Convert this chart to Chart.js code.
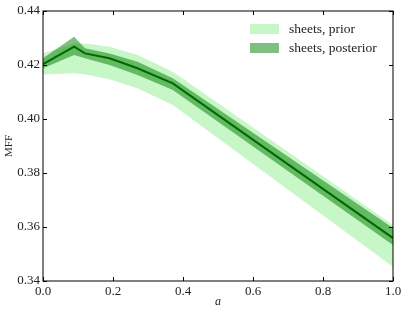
<!DOCTYPE html>
<html>
<head>
<meta charset="utf-8">
<script src="https://cdn.jsdelivr.net/npm/chart.js@4.4.0/dist/chart.umd.min.js"></script>
<style>
  body { margin: 0; background: #fff; }
  canvas { display: block; }
</style>
</head>
<body>
<canvas id="mffChart" width="407" height="315"></canvas>
<script>
// values
const aValues   = [0, 0.089, 0.12, 0.19, 0.27, 0.371, 1.0];
const mffMean   = [0.4203, 0.4268, 0.4243, 0.4225, 0.4188, 0.4132, 0.3559];
const postHigh  = [0.4225, 0.4305, 0.4262, 0.4243, 0.4212, 0.4151, 0.3596];
const postLow   = [0.4188, 0.4237, 0.4225, 0.4200, 0.4163, 0.4107, 0.3533];
const priorHigh = [0.4243, 0.4280, 0.4280, 0.4268, 0.4237, 0.4175, 0.3607];
const priorLow  = [0.4165, 0.4169, 0.4166, 0.4147, 0.4114, 0.4052, 0.3453];

const legendLabels = ['sheets, prior', 'sheets, posterior'];
const priorColor = 'rgba(144, 238, 144, 0.5)';
const postColor = 'rgba(0, 128, 0, 0.5)';
const lineColor = 'rgb(0, 104, 0)';
const serif = '"Liberation Serif", "DejaVu Serif", serif';

const pts = (ys) => aValues.map((x, i) => ({ x: x, y: ys[i] }));

const band = (ys, fill, color, order) => ({
  data: pts(ys),
  fill: fill,
  backgroundColor: color,
  borderColor: 'transparent',
  borderWidth: 1,
  pointRadius: 0,
  tension: 0,
  order: order
});

const data = {
  datasets: [
    band(priorLow, false, priorColor, 3),
    band(priorHigh, '-1', priorColor, 3),
    band(postLow, false, postColor, 2),
    band(postHigh, '-1', postColor, 2),
    {
      data: pts(mffMean),
      fill: false,
      borderColor: lineColor,
      borderWidth: 2,
      pointRadius: 0,
      tension: 0,
      order: 1
    }
  ]
};

// box around the plot, ticks pointing inwards, legend in the top right corner
const framePlugin = {
  id: 'frame',
  afterDraw(chart) {
    const c = chart.ctx;
    const a = chart.chartArea;
    const xs = chart.scales.x, ys = chart.scales.y;
    c.save();
    c.strokeStyle = '#000';
    c.lineWidth = 1;
    c.strokeRect(a.left, a.top, a.right - a.left, a.bottom - a.top);
    c.beginPath();
    xs.ticks.forEach(t => {
      const px = Math.round(xs.getPixelForValue(t.value)) + 0.5;
      c.moveTo(px, a.bottom); c.lineTo(px, a.bottom - 4);
      c.moveTo(px, a.top); c.lineTo(px, a.top + 4);
    });
    ys.ticks.forEach(t => {
      const py = Math.round(ys.getPixelForValue(t.value)) + 0.5;
      c.moveTo(a.left, py); c.lineTo(a.left + 4, py);
      c.moveTo(a.right, py); c.lineTo(a.right - 4, py);
    });
    c.stroke();

    const colors = [priorColor, postColor];
    const bx = a.right - 143;
    c.font = '13.5px ' + serif;
    c.textBaseline = 'middle';
    legendLabels.forEach((label, i) => {
      const by = a.top + 13 + i * 19;
      c.fillStyle = colors[i];
      c.fillRect(bx, by, 29, 10);
      c.fillStyle = '#222';
      c.fillText(label, bx + 39, by + 5);
    });
    c.restore();
  }
};

new Chart(document.getElementById('mffChart'), {
  type: 'line',
  data: data,
  plugins: [framePlugin],
  options: {
    responsive: false,
    animation: false,
    layout: { padding: { top: 11, right: 14, left: 0, bottom: 0 } },
    plugins: {
      legend: { display: false },
      tooltip: { enabled: false }
    },
    scales: {
      x: {
        type: 'linear',
        min: 0,
        max: 1,
        afterFit: (s) => { s.height = 34; },
        grid: { display: false, drawTicks: false },
        border: { display: false },
        ticks: {
          stepSize: 0.2,
          padding: 3,
          color: '#222',
          font: { family: serif, size: 13 },
          callback: (v) => v.toFixed(1)
        },
        title: {
          display: true,
          text: 'a',
          color: '#222',
          padding: 6,
          font: { family: serif, size: 12, style: 'italic' }
        }
      },
      y: {
        min: 0.34,
        max: 0.44,
        afterFit: (s) => { s.width = 43; },
        grid: { display: false, drawTicks: false },
        border: { display: false },
        ticks: {
          stepSize: 0.02,
          padding: 3,
          color: '#222',
          font: { family: serif, size: 13 },
          callback: (v) => v.toFixed(2)
        },
        title: {
          display: true,
          text: 'MFF',
          color: '#222',
          padding: 3,
          font: { family: serif, size: 11 }
        }
      }
    }
  }
});
</script>
</body>
</html>
